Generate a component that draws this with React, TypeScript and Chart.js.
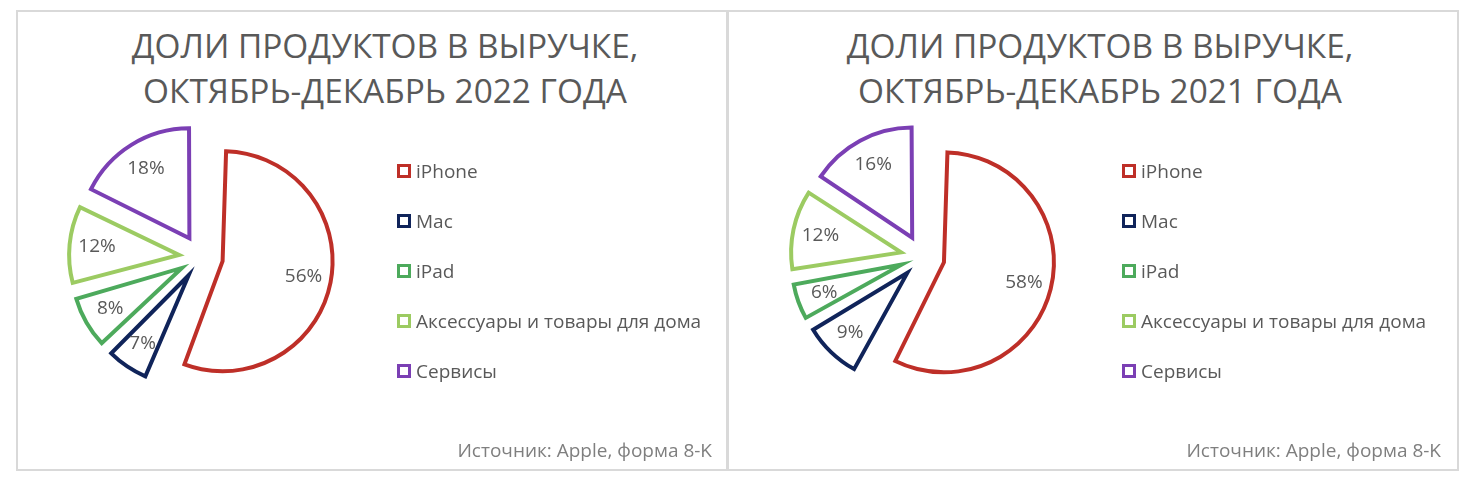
import React, { useEffect, useRef } from "react";
import { Chart, registerables } from "chart.js";

Chart.register(...registerables);

// ---------- data ----------
const categories = ["iPhone", "Mac", "iPad", "Аксессуары и товары для дома", "Сервисы"];
const shares2022 = [56.2, 6.6, 8.0, 11.6, 17.7];
const shares2021 = [57.8, 8.8, 5.8, 11.9, 15.7];
const title2022 = ["ДОЛИ ПРОДУКТОВ В ВЫРУЧКЕ,", "ОКТЯБРЬ-ДЕКАБРЬ 2022 ГОДА"];
const title2021 = ["ДОЛИ ПРОДУКТОВ В ВЫРУЧКЕ,", "ОКТЯБРЬ-ДЕКАБРЬ 2021 ГОДА"];
const sourceText = "Источник: Apple, форма 8-K";

// ---------- styles ----------
const sliceColors = ["#BE2F28", "#10245A", "#4DAA5C", "#9CCB62", "#7B3FB4"];
const FONT = "'Open Sans', 'Noto Sans', sans-serif";
const TEXT_GRAY = "#595959";
const RADIUS = 110;
const OFFSET = 88; // Chart.js translates an exploded arc by offset / 4

const evenRadiusPlugin = {
  id: "evenRadius",
  beforeDatasetsDraw(chart: any) {
    const meta = chart.getDatasetMeta(0);
    meta.data.forEach((el: any) => {
      const fix = 1 - Math.sin(Math.min(Math.PI, el.circumference || 0));
      el.outerRadius = RADIUS - (OFFSET / 4) * fix;
    });
  },
};

const percentLabelPlugin = {
  id: "percentLabels",
  afterDatasetsDraw(chart: any) {
    const ctx = chart.ctx;
    const meta = chart.getDatasetMeta(0);
    const values = chart.data.datasets[0].data as number[];
    const total = values.reduce((a, b) => a + b, 0);
    ctx.save();
    ctx.font = `19px ${FONT}`;
    ctx.fillStyle = TEXT_GRAY;
    ctx.textAlign = "center";
    ctx.textBaseline = "middle";
    meta.data.forEach((el: any, i: number) => {
      const mid = (el.startAngle + el.endAngle) / 2;
      const d = OFFSET / 4 + 0.75 * RADIUS;
      ctx.fillText(
        Math.round((values[i] / total) * 100) + "%",
        el.x + Math.cos(mid) * d,
        el.y + Math.sin(mid) * d
      );
    });
    ctx.restore();
  },
};

type PanelCfg = {
  x: number;
  y: number;
  w: number;
  h: number;
  pad: { left: number; right: number; top: number; bottom: number };
  titleCx: number;
  sourceRight: number;
  legendX: number;
};

function PiePanel({ values, title, cfg }: { values: number[]; title: string[]; cfg: PanelCfg }) {
  const ref = useRef<HTMLCanvasElement | null>(null);

  useEffect(() => {
    if (!ref.current) return;
    const chart = new Chart(ref.current, {
      type: "pie",
      data: {
        labels: categories,
        datasets: [
          {
            data: values,
            backgroundColor: "#ffffff",
            borderColor: sliceColors,
            borderWidth: 4,
            borderJoinStyle: "miter",
            offset: OFFSET,
            clip: false,
          } as any,
        ],
      },
      options: {
        responsive: false,
        animation: false,
        events: [],
        radius: RADIUS,
        layout: { padding: cfg.pad },
        plugins: {
          title: { display: false },
          subtitle: { display: false },
          tooltip: { enabled: false },
          legend: { display: false },
        },
      } as any,
      plugins: [evenRadiusPlugin, percentLabelPlugin],
    });
    return () => chart.destroy();
  }, [values, cfg]);

  return (
    <>
      <div
        style={{
          position: "absolute",
          left: cfg.titleCx - 360,
          width: 720,
          top: 23,
          textAlign: "center",
          fontFamily: FONT,
          fontSize: 33.4,
          lineHeight: "45px",
          color: TEXT_GRAY,
          whiteSpace: "nowrap",
        }}
      >
        {title.map((t, i) => (
          <div key={i}>{t}</div>
        ))}
      </div>
      <canvas
        ref={ref}
        width={cfg.w}
        height={cfg.h}
        style={{ position: "absolute", left: cfg.x, top: cfg.y, width: cfg.w, height: cfg.h }}
      />
      {categories.map((name, i) => (
        <div
          key={name}
          style={{
            position: "absolute",
            left: cfg.legendX,
            top: 171 + 50 * i - 13,
            height: 26,
            display: "flex",
            alignItems: "center",
            fontFamily: FONT,
            fontSize: 19,
            color: TEXT_GRAY,
            whiteSpace: "nowrap",
          }}
        >
          <span
            style={{
              display: "inline-block",
              width: 14,
              height: 14,
              boxSizing: "border-box",
              border: `3px solid ${sliceColors[i]}`,
              background: "#ffffff",
              marginRight: 5,
            }}
          />
          <span>{name}</span>
        </div>
      ))}
      <div
        style={{
          position: "absolute",
          left: cfg.sourceRight - 400,
          width: 400,
          top: 440,
          textAlign: "right",
          fontFamily: FONT,
          fontSize: 19,
          lineHeight: "20px",
          color: "#7F7F7F",
          whiteSpace: "nowrap",
        }}
      >
        {sourceText}
      </div>
    </>
  );
}

const leftCfg: PanelCfg = {
  x: 18,
  y: 12,
  w: 708,
  h: 457,
  pad: { left: 0, right: 342, top: 33, bottom: 0 },
  titleCx: 385,
  sourceRight: 712,
  legendX: 397,
};

const rightCfg: PanelCfg = {
  x: 730,
  y: 12,
  w: 726,
  h: 457,
  pad: { left: 0, right: 340.8, top: 33, bottom: 0 },
  titleCx: 1100,
  sourceRight: 1441,
  legendX: 1122,
};

export default function App() {
  return (
    <div
      style={{
        position: "absolute",
        left: 0,
        top: 0,
        width: 1474,
        height: 482,
        overflow: "hidden",
        background: "#ffffff",
      }}
    >
      <div
        style={{
          position: "absolute",
          left: 16,
          top: 10,
          width: 712,
          height: 461,
          border: "2px solid #D9D9D9",
          boxSizing: "border-box",
        }}
      />
      <div
        style={{
          position: "absolute",
          left: 727,
          top: 10,
          width: 732,
          height: 461,
          border: "2px solid #D9D9D9",
          boxSizing: "border-box",
        }}
      />
      <PiePanel values={shares2022} title={title2022} cfg={leftCfg} />
      <PiePanel values={shares2021} title={title2021} cfg={rightCfg} />
    </div>
  );
}
